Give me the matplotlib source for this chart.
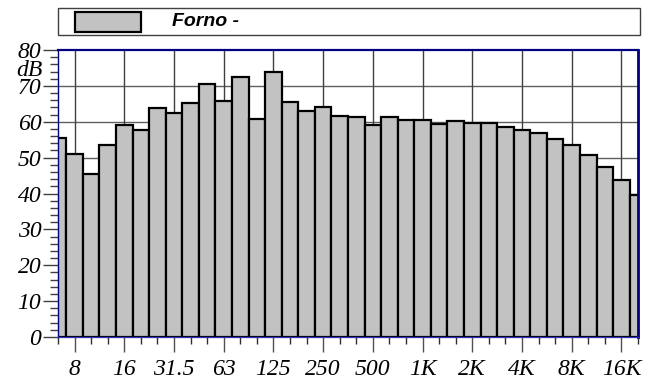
import matplotlib
matplotlib.use("Agg")
import matplotlib.pyplot as plt
from matplotlib.patches import Rectangle
from matplotlib.ticker import MultipleLocator, FixedLocator
from matplotlib.font_manager import FontProperties

bands = ["6.3", "8", "10", "12.5", "16", "20", "25", "31.5", "40", "50", "63", "80",
         "100", "125", "160", "200", "250", "315", "400", "500", "630", "800",
         "1K", "1.25K", "1.6K", "2K", "2.5K", "3.15K", "4K", "5K", "6.3K", "8K",
         "10K", "12.5K", "16K", "20K"]
levels = [55.4, 50.9, 45.3, 53.5, 59.0, 57.7, 63.8, 62.3, 65.1, 70.5, 65.9, 72.6,
          60.7, 73.9, 65.5, 63.1, 64.2, 61.6, 61.2, 59.0, 61.2, 60.5,
          60.5, 59.4, 60.3, 59.7, 59.6, 58.6, 57.7, 56.8, 55.3, 53.6,
          50.6, 47.5, 43.8, 39.7]
label_bands = ["8", "16", "31.5", "63", "125", "250", "500", "1K", "2K", "4K", "8K", "16K"]
y_ticks = [0, 10, 20, 30, 40, 50, 60, 70, 80]
y_ticklabels = ["0", "10", "20", "30", "40", "50", "60", "70", "80"]
series_name = "Forno -"
y_label = "dB"

fp = FontProperties(family="Liberation Serif", style="italic", size=17)

W, H = 651, 380
fig = plt.figure(figsize=(W / 100, H / 100), dpi=100)
ax = fig.add_axes([58 / W, (H - 337) / H, 580 / W, 287 / H])

x = list(range(len(bands)))
ax.bar(x, levels, width=1.0, color="#c2c2c2", edgecolor="black", linewidth=1.6,
       zorder=3, clip_on=True)

ax.set_xlim(0, len(bands) - 1)
ax.set_ylim(0, 80)

major_idx = [bands.index(b) for b in label_bands]
minor_idx = [i for i in x if i not in major_idx]
ax.set_xticks(major_idx, label_bands, fontproperties=fp)
ax.xaxis.set_minor_locator(FixedLocator(minor_idx))
ax.set_yticks(y_ticks, y_ticklabels, fontproperties=fp)
ax.yaxis.set_minor_locator(MultipleLocator(2))

ax.tick_params(axis="x", which="major", length=11, width=1, color="#505050", pad=5)
ax.tick_params(axis="x", which="minor", length=5, width=1, color="#303030")
ax.tick_params(axis="y", which="major", length=11, width=1, color="#404040", pad=1)
ax.tick_params(axis="y", which="minor", length=6, width=1, color="#404040")

for v in range(10, 80, 10):
    ax.axhline(v, color="#606060", linewidth=1, zorder=1)
for i in major_idx:
    ax.axvline(i, color="#404040", linewidth=1, zorder=1)

ax.spines["top"].set_color("#000080")
ax.spines["top"].set_linewidth(1.6)
ax.spines["right"].set_color("#000080")
ax.spines["right"].set_linewidth(2.0)
ax.spines["left"].set_color("#000080")
ax.spines["left"].set_linewidth(1.0)
ax.spines["bottom"].set_color("#3030c0")
ax.spines["bottom"].set_linewidth(0.9)
for s in ax.spines.values():
    s.set_zorder(5)

fig.text(29 / W, 1 - 70 / H, y_label, fontproperties=fp, ha="center", va="center")

# legend box
fig.patches.append(Rectangle((58 / W, 1 - 35 / H), 582 / W, 27 / H,
                             transform=fig.transFigure, facecolor="white",
                             edgecolor="#404040", linewidth=1))
fig.patches.append(Rectangle((75 / W, 1 - 32 / H), 66 / W, 20 / H,
                             transform=fig.transFigure, facecolor="#c2c2c2",
                             edgecolor="black", linewidth=1.6))
fig.text(172 / W, 1 - 21 / H, series_name, family="Liberation Sans",
         style="italic", weight="bold", fontsize=14, ha="left", va="center")

fig.savefig("out.png", dpi=100)
